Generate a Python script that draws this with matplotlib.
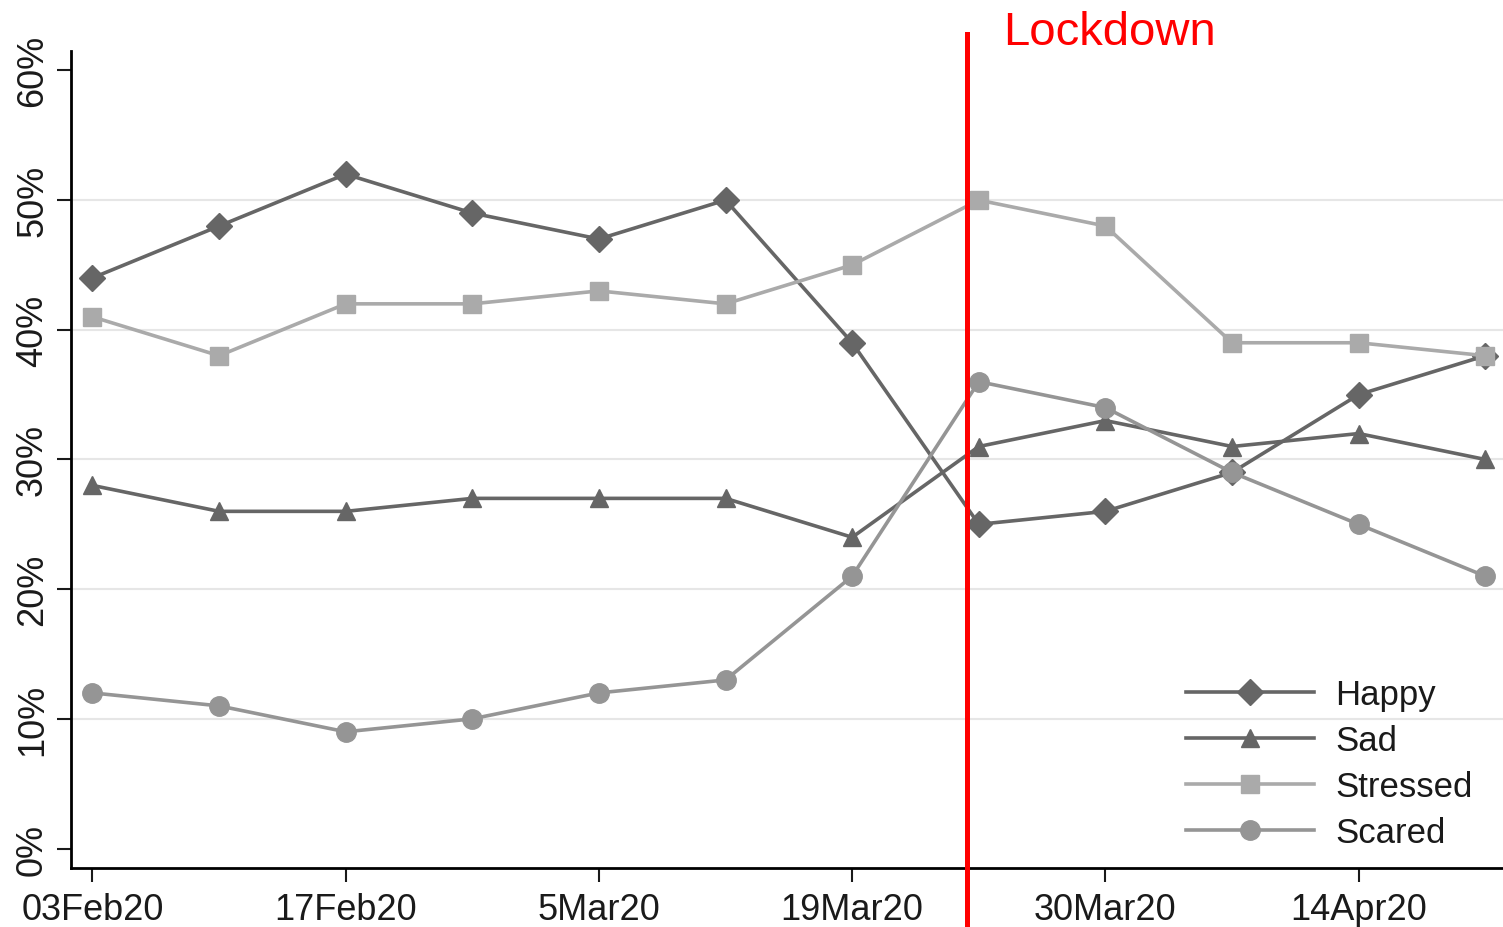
import matplotlib
matplotlib.use('Agg')
import matplotlib.pyplot as plt

plt.rcParams['font.family'] = ['Liberation Sans', 'DejaVu Sans']

# survey waves (equally spaced) and share of respondents per feeling, in %
waves = list(range(12))
tick_pos = [0, 2, 4, 6, 8, 10]
tick_labels = ['03Feb20', '17Feb20', '5Mar20', '19Mar20', '30Mar20', '14Apr20']
happy = [44, 48, 52, 49, 47, 50, 39, 25, 26, 29, 35, 38]
sad = [28, 26, 26, 27, 27, 27, 24, 31, 33, 31, 32, 30]
stressed = [41, 38, 42, 42, 43, 42, 45, 50, 48, 39, 39, 38]
scared = [12, 11, 9, 10, 12, 13, 21, 36, 34, 29, 25, 21]
lockdown_x = 6.91

fig = plt.figure(figsize=(15.03, 9.28), dpi=100)
ax = fig.add_axes([0.0472, 0.0636, 0.9528, 0.8804])

for g in [10, 20, 30, 40, 50]:
    ax.axhline(g, color='#e6e6e6', lw=1.5, zorder=0)

ax.plot(waves, happy, color='#666666', lw=2.6, marker='D', ms=13, label='Happy')
ax.plot(waves, sad, color='#666666', lw=2.6, marker='^', ms=13, label='Sad')
ax.plot(waves, stressed, color='#aaaaaa', lw=2.6, marker='s', ms=13, label='Stressed')
ax.plot(waves, scared, color='#959595', lw=2.6, marker='o', ms=14, label='Scared')

# lockdown marker runs past the plot area
ax.plot([lockdown_x, lockdown_x], [-0.072, 1.021], color='#ff0000', lw=3.6,
        transform=ax.get_xaxis_transform(), clip_on=False, zorder=5)
fig.text(1003 / 1503, 1 - 45 / 928, 'Lockdown', color='#ff0000', fontsize=34)

ax.set_xlim(-0.17, 11.14)
ax.set_ylim(-1.5, 61.5)
ax.set_xticks(tick_pos)
ax.set_xticklabels(tick_labels)
ax.set_yticks([0, 10, 20, 30, 40, 50, 60])
ax.set_yticklabels(['0%', '10%', '20%', '30%', '40%', '50%', '60%'],
                   rotation=90, va='center')
ax.tick_params(axis='both', labelsize=26, colors='#1a1a1a', width=1.5, length=10)
ax.tick_params(axis='x', pad=7)
ax.tick_params(axis='y', pad=5)

for s in ['top', 'right']:
    ax.spines[s].set_visible(False)
for s in ['left', 'bottom']:
    ax.spines[s].set_linewidth(2)

ax.legend(loc='lower right', bbox_to_anchor=(0.992, 0.0), frameon=False, fontsize=25,
          handlelength=3.7, handletextpad=0.6, labelspacing=0.37, borderaxespad=0.15,
          labelcolor='#1a1a1a')

fig.savefig('out.png', dpi=100)
